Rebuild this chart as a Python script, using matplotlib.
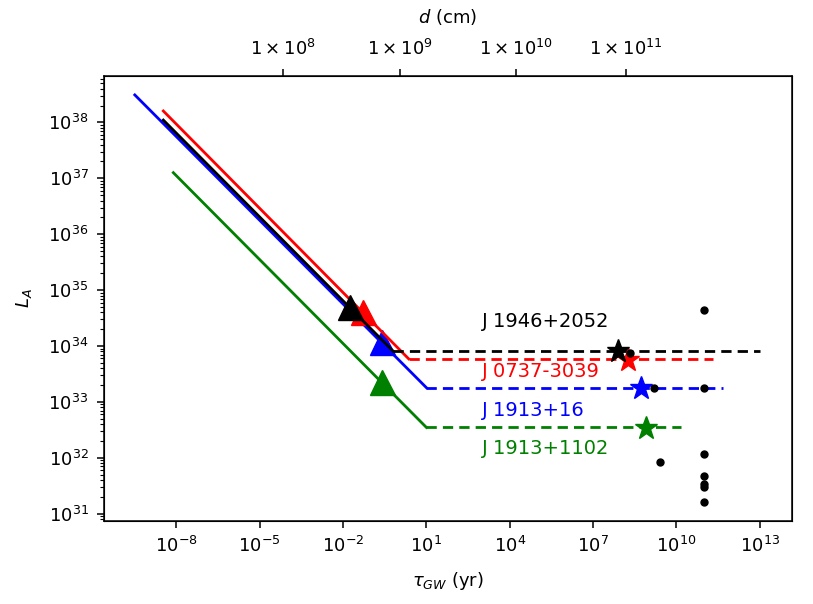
import numpy as np
import matplotlib
matplotlib.use("Agg")
import matplotlib.pyplot as plt
from matplotlib.ticker import NullLocator, FixedLocator, FixedFormatter

# ---- data ----
names = ["J 1913+1102", "J 1913+16", "J 0737-3039", "J 1946+2052"]
colors = ["green", "blue", "red", "black"]
tau_start = [7.8e-9, 3.2e-10, 3.4e-9, 3.4e-9]
L_start = [1.26e37, 3.1e38, 1.6e38, 1.1e38]
tau_knee = [10.0, 10.0, 2.3, 0.65]
L_flat = [3.5e32, 1.8e33, 5.9e33, 8.0e33]
tau_end = [1.5e10, 4.7e11, 2.0e11, 1.0e13]
tri_tau = [0.245, 0.245, 0.054, 0.018]
tri_L = [2.3e33, 1.17e34, 4.0e34, 5.0e34]
star_tau = [8.3e8, 5.1e8, 1.8e8, 8.0e7]
star_L = [3.4e32, 1.8e33, 5.6e33, 8.3e33]
label_tau = [1e3, 1e3, 1e3, 1e3]
label_L = [1.45e32, 7.1e32, 3.5e33, 2.8e34]

dot_tau = [2.1e8, 1.5e9, 2.5e9, 9.7e10, 9.7e10, 9.7e10, 9.7e10, 9.7e10, 9.7e10, 9.7e10]
dot_L = [7.6e33, 1.8e33, 8.3e31, 4.4e34, 1.8e33, 1.15e32, 4.7e31, 3.4e31, 3.0e31, 1.6e31]

top_tick_tau = [7.0e-5, 1.08, 1.7e4, 1.55e8]
top_tick_labels = [r"$1\times10^{8}$", r"$1\times10^{9}$", r"$1\times10^{10}$", r"$1\times10^{11}$"]

fig = plt.figure(figsize=(8.13, 6.04), dpi=100)
ax = fig.add_axes([0.1277, 0.1374, 0.9742 - 0.1277, 0.8742 - 0.1374])
ax.set_xscale("log")
ax.set_yscale("log")

for i in range(len(names)):
    c = colors[i]
    ax.plot([tau_start[i], tau_knee[i]], [L_start[i], L_flat[i]], color=c, lw=2)
    ax.plot([tau_knee[i], tau_end[i]], [L_flat[i], L_flat[i]], color=c, lw=2,
            ls=(0, (3.7, 2.2)))
    ax.plot(tri_tau[i], tri_L[i], marker="^", color=c, ms=18, ls="none")
for i in range(len(names)):
    ax.plot(star_tau[i], star_L[i], marker="*", color=colors[i], ms=17, ls="none")
ax.plot(dot_tau, dot_L, "ko", ms=5, ls="none")
for i in range(len(names)):
    ax.text(label_tau[i], label_L[i], names[i], color=colors[i], fontsize=14,
            ha="left", va="center")

ax.set_xlim(10**-10.61, 10**14.16)
ax.set_ylim(10**30.87, 10**38.83)
ax.xaxis.set_major_locator(FixedLocator([1e-8, 1e-5, 1e-2, 1e1, 1e4, 1e7, 1e10, 1e13]))
ax.xaxis.set_minor_locator(NullLocator())
ax.tick_params(which="major", labelsize=13, length=5, width=1.1, pad=6)
ax.tick_params(which="minor", length=3, width=0.8)
ax.set_xlabel(r"$\tau_{GW}$ (yr)", fontsize=13, labelpad=10)
ax.set_ylabel(r"$L_A$", fontsize=13, labelpad=10)
for s in ax.spines.values():
    s.set_linewidth(1.1)

ax2 = ax.twiny()
ax2.set_xscale("log")
ax2.set_xlim(ax.get_xlim())
ax2.xaxis.set_major_locator(FixedLocator(top_tick_tau))
ax2.xaxis.set_major_formatter(FixedFormatter(top_tick_labels))
ax2.xaxis.set_minor_locator(NullLocator())
ax2.tick_params(which="major", labelsize=13, length=5, width=1.1, pad=7)
ax2.set_xlabel(r"$d$ (cm)", fontsize=13, labelpad=12)

fig.savefig("out.png", dpi=100)
